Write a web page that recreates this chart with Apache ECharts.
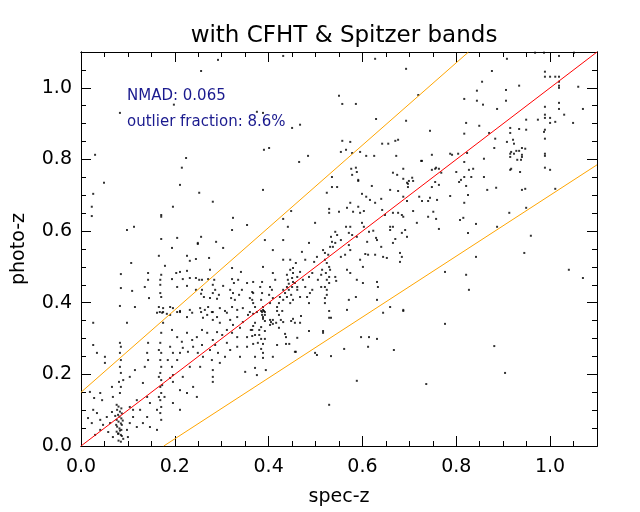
<!DOCTYPE html>
<html>
<head>
<meta charset="utf-8">
<script src="https://cdn.jsdelivr.net/npm/echarts@6/dist/echarts.min.js"></script>
<style>
  html, body { margin: 0; padding: 0; background: #fff; }
  #main { width: 640px; height: 512px; }
</style>
</head>
<body>
<div id="main"></div>
<script>
// spec-z / photo-z pairs, grouped by area of the plot
const topLeftPts = [
  [0.292,1.078],[0.256,1.047],[0.198,0.953],[0.083,0.930],[0.030,0.813],[0.224,0.804],[0.215,0.777],[0.049,0.735],
  [0.431,1.089],[0.627,1.081],[0.693,1.053],[0.550,0.978],[0.557,0.955],[0.586,0.955],[0.375,0.933],[0.388,0.930],
  [0.467,0.897],[0.450,0.888],[0.629,0.913],[0.693,0.908],[0.557,0.852],[0.574,0.849],[0.676,0.855],[0.670,0.852],
  [0.642,0.844],[0.655,0.844],[0.390,0.827],[0.401,0.832],[0.554,0.821],[0.565,0.827],[0.578,0.818],[0.595,0.821],
  [0.608,0.810],[0.625,0.810],[0.672,0.810],[0.484,0.810],[0.465,0.793],[0.727,0.796],[0.576,0.774],[0.586,0.777],
  [0.588,0.765],[0.578,0.757],[0.535,0.751],[0.591,0.743],[0.665,0.763],[0.687,0.774],[0.674,0.757],[0.687,0.746],
  [0.699,0.740],[0.697,0.732],[0.706,0.749],[0.708,0.740],[0.719,0.980]
];

const highZPts = [
  [1.019,1.089],[1.051,1.098],[0.987,1.098],[0.968,1.098],[0.908,1.081],[0.876,1.047],[0.855,1.017],[0.989,1.045],
  [0.989,1.031],[1.000,1.031],[1.011,1.031],[1.019,1.031],[1.019,1.017],[1.019,1.006],[1.019,1.000],[1.060,1.003],
  [0.934,1.006],[0.906,0.994],[0.844,0.992],[0.817,0.969],[0.844,0.964],[0.857,0.953],[0.906,0.964],[0.887,0.941],
  [0.989,0.947],[1.019,0.958],[1.019,0.941],[1.070,0.941],[1.030,0.925],[0.989,0.925],[0.989,0.916],[1.000,0.916],
  [0.974,0.911],[0.949,0.911],[1.011,0.905],[1.000,0.902],[1.049,0.902],[0.821,0.902],[0.744,0.880],[0.849,0.894],
  [0.915,0.888],[0.934,0.885],[0.949,0.883],[0.915,0.874],[0.989,0.883],[0.987,0.877],[0.870,0.874],[0.817,0.872],
  [0.989,0.858],[0.883,0.858],[0.921,0.855],[0.908,0.849],[0.881,0.832],[0.923,0.844],[0.928,0.824],[0.934,0.824],
  [0.947,0.830],[0.940,0.832],[0.917,0.821],[0.915,0.816],[0.915,0.807],[0.923,0.816],[0.940,0.813],[0.940,0.807],
  [0.930,0.799],[0.938,0.799],[0.989,0.816],[0.989,0.810],[0.989,0.777],[1.000,0.771],[0.917,0.774],[0.915,0.771],
  [0.859,0.802],[0.823,0.818],[0.804,0.816],[0.787,0.816],[0.791,0.813],[0.748,0.813],[0.725,0.796],[0.817,0.793],
  [0.757,0.777],[0.755,0.774],[0.763,0.774],[0.748,0.771],[0.768,0.763],[0.800,0.765],[0.827,0.771],[0.836,0.774],
  [0.832,0.751],[0.859,0.751],[0.817,0.751],[0.810,0.743],[0.806,0.737],[0.755,0.737],[0.936,0.765],
  [0.748,0.723],[0.763,0.729],[0.821,0.726],[0.866,0.715],[0.885,0.721],[0.940,0.715],[0.947,0.718],[1.011,0.718],
  [0.787,0.698],[0.825,0.701],[0.744,0.693],[0.740,0.684],[0.759,0.687],[0.817,0.679],[0.751,0.654],[0.913,0.651],
  [0.949,0.665],[0.740,0.640],[0.757,0.634],[0.808,0.631],[0.815,0.637],[0.842,0.620],[0.887,0.612],[0.763,0.606],
  [0.825,0.595],[0.959,0.587],[0.945,0.539],[0.842,0.528],[0.776,0.486],[0.821,0.478],[1.040,0.492],[1.070,0.469],
  [0.827,0.436],[0.776,0.341],[0.881,0.279],[0.904,0.204],[0.736,0.173]
];

const midPts = [
  [0.388,0.715],[0.535,0.723],[0.546,0.723],[0.591,0.740],[0.620,0.726],[0.695,0.735],[0.697,0.723],[0.659,0.715],
  [0.676,0.712],[0.524,0.707],[0.599,0.704],[0.608,0.696],[0.616,0.687],[0.627,0.679],[0.640,0.690],[0.687,0.696],
  [0.695,0.684],[0.721,0.696],[0.727,0.684],[0.574,0.679],[0.567,0.665],[0.550,0.654],[0.529,0.662],[0.529,0.651],
  [0.591,0.668],[0.603,0.656],[0.580,0.654],[0.595,0.651],[0.642,0.659],[0.648,0.645],[0.665,0.651],[0.676,0.651],
  [0.684,0.645],[0.687,0.640],[0.708,0.656],[0.716,0.623],[0.448,0.656],[0.431,0.634],[0.441,0.612],[0.499,0.623],
  [0.565,0.612],[0.574,0.612],[0.599,0.623],[0.603,0.612],[0.614,0.598],[0.623,0.601],[0.659,0.612],[0.659,0.603],
  [0.665,0.612],[0.684,0.595],[0.691,0.603],[0.695,0.584],[0.542,0.598],[0.533,0.584],[0.546,0.589],[0.571,0.595],
  [0.578,0.589],[0.588,0.584],[0.554,0.575],[0.535,0.570],[0.531,0.556],[0.537,0.556],[0.542,0.567],[0.571,0.561],
  [0.574,0.547],[0.610,0.570],[0.631,0.575],[0.629,0.581],[0.670,0.578],[0.665,0.567],[0.640,0.556],[0.612,0.534],
  [0.606,0.536],[0.680,0.539],[0.684,0.528],[0.680,0.514],[0.516,0.547],[0.520,0.539],[0.527,0.534],[0.520,0.520],
  [0.524,0.511],[0.529,0.500],[0.531,0.492],[0.522,0.483],[0.529,0.472],[0.524,0.464],[0.529,0.455],[0.520,0.444],
  [0.524,0.436],[0.524,0.422],[0.520,0.413],[0.520,0.399],[0.514,0.492],[0.512,0.478],[0.505,0.464],[0.512,0.444],
  [0.567,0.492],[0.574,0.483],[0.588,0.464],[0.601,0.455],[0.601,0.500],[0.595,0.520],[0.631,0.458],[0.633,0.444],
  [0.567,0.380],[0.687,0.380],[0.659,0.388],[0.467,0.416],[0.461,0.436],[0.486,0.472],[0.493,0.483],[0.493,0.436],
  [0.488,0.427],[0.482,0.416],[0.446,0.520],[0.458,0.511],[0.452,0.497],[0.467,0.486],[0.452,0.483],[0.446,0.492],
  [0.439,0.478],[0.461,0.472],[0.450,0.469],[0.441,0.464],[0.452,0.458],[0.456,0.455],[0.443,0.453],[0.439,0.444],
  [0.450,0.444],[0.461,0.444],[0.431,0.436],[0.443,0.436],[0.435,0.427],[0.448,0.422],[0.439,0.416],[0.452,0.408],
  [0.446,0.399],[0.431,0.408],[0.424,0.416],[0.422,0.399],[0.418,0.388],[0.388,0.380],[0.386,0.374],[0.392,0.374],
  [0.388,0.388],[0.384,0.408],[0.386,0.427],[0.382,0.444],[0.386,0.458],[0.388,0.500],[0.409,0.483],[0.414,0.464],
  [0.403,0.444],[0.407,0.436],[0.401,0.422],[0.409,0.413],[0.403,0.399],[0.367,0.427],[0.365,0.408],[0.371,0.388],
  [0.375,0.374],[0.367,0.458],[0.473,0.464],[0.478,0.444],[0.486,0.399],[0.542,0.472],[0.544,0.461],[0.571,0.408],
  [0.586,0.416],[0.631,0.408],[0.486,0.567],[0.471,0.542],[0.478,0.520],[0.497,0.514],[0.503,0.528],[0.554,0.528],
  [0.563,0.534],[0.627,0.534],[0.644,0.528],[0.652,0.525],[0.431,0.520],[0.392,0.575],[0.409,0.547],[0.431,0.575]
];

const lowerRightPts = [
  [0.644,0.372],[0.687,0.377],[0.597,0.304],[0.614,0.304],[0.631,0.299],[0.612,0.277],[0.667,0.268],[0.561,0.271],
  [0.533,0.251],[0.588,0.182],[0.529,0.115],[0.503,0.254],[0.499,0.260],[0.456,0.263],[0.458,0.263],[0.486,0.321],
  [0.516,0.321],[0.516,0.316],[0.461,0.302],[0.435,0.313],[0.437,0.304],[0.437,0.285],[0.444,0.285],[0.409,0.249],
  [0.394,0.212],[0.371,0.218],[0.375,0.198],[0.371,0.249],[0.529,0.377],[0.529,0.358],[0.533,0.358],[0.469,0.363],
  [0.452,0.355],[0.448,0.349],[0.456,0.344],[0.467,0.344],[0.426,0.352],[0.431,0.346],[0.416,0.344],[0.418,0.377],
  [0.422,0.366],[0.403,0.352],[0.409,0.352],[0.405,0.346],[0.409,0.341],[0.403,0.338],[0.422,0.330],[0.367,0.369],
  [0.371,0.344],[0.367,0.335],[0.362,0.324],[0.380,0.324],[0.392,0.321],[0.384,0.332],[0.365,0.307],[0.371,0.310],
  [0.380,0.310],[0.384,0.299],[0.377,0.288],[0.367,0.285],[0.388,0.285],[0.384,0.271],[0.388,0.260],[0.388,0.246],
  [0.418,0.282],[0.392,0.299],[0.388,0.360],[0.386,0.366],[0.392,0.366],[0.390,0.377],[0.384,0.377],[0.388,0.355],
  [0.392,0.349],[0.429,0.377]
];

const upperLeftPts = [
  [0.211,0.729],[0.026,0.704],[0.252,0.707],[0.023,0.668],[0.196,0.668],[0.281,0.682],[0.023,0.642],[0.171,0.645],
  [0.171,0.640],[0.324,0.637],[0.354,0.617],[0.113,0.612],[0.098,0.603],[0.322,0.603],[0.171,0.578],[0.205,0.581],
  [0.249,0.567],[0.249,0.564],[0.256,0.584],[0.288,0.570],[0.194,0.553],[0.303,0.553],[0.166,0.531],[0.226,0.531],
  [0.245,0.522],[0.273,0.525],[0.232,0.517],[0.107,0.511],[0.179,0.503],[0.211,0.486],[0.203,0.483],[0.226,0.489],
  [0.275,0.492],[0.322,0.497],[0.341,0.486],[0.085,0.480],[0.143,0.483],[0.171,0.478],[0.194,0.466],[0.217,0.466],
  [0.232,0.469],[0.245,0.469],[0.252,0.464],[0.258,0.464],[0.271,0.466],[0.284,0.464],[0.322,0.466],[0.326,0.455],
  [0.335,0.464],[0.143,0.464],[0.169,0.464],[0.085,0.441],[0.109,0.433],[0.136,0.444],[0.169,0.450],[0.169,0.427],
  [0.171,0.416],[0.205,0.444],[0.226,0.447],[0.245,0.436],[0.258,0.436],[0.256,0.425],[0.262,0.416],[0.281,0.450],
  [0.286,0.436],[0.281,0.427],[0.294,0.422],[0.275,0.413],[0.290,0.411],[0.303,0.447],[0.318,0.436],[0.324,0.427],
  [0.320,0.413],[0.328,0.408],[0.337,0.422],[0.343,0.436],[0.354,0.455],[0.365,0.430],[0.360,0.413],[0.367,0.399],
  [0.145,0.413],[0.083,0.391],[0.115,0.388],[0.166,0.388],[0.175,0.385],[0.190,0.388],[0.196,0.385],[0.205,0.374],
  [0.211,0.377],[0.232,0.380],[0.254,0.385],[0.264,0.380],[0.271,0.388],[0.281,0.374],[0.296,0.385],[0.307,0.377],
  [0.322,0.388],[0.333,0.380],[0.345,0.385],[0.360,0.374],[0.162,0.372],[0.175,0.374],[0.183,0.369]
];

const lowPts = [
  [0.168,0.374],[0.173,0.372],[0.190,0.366],[0.211,0.374],[0.226,0.360],[0.237,0.372],[0.256,0.374],[0.260,0.358],
  [0.269,0.366],[0.279,0.374],[0.281,0.352],[0.290,0.360],[0.296,0.344],[0.311,0.372],[0.318,0.352],[0.324,0.338],
  [0.333,0.360],[0.339,0.330],[0.345,0.346],[0.356,0.366],[0.365,0.324],[0.354,0.304],[0.333,0.304],[0.322,0.316],
  [0.311,0.324],[0.301,0.310],[0.290,0.318],[0.281,0.296],[0.269,0.316],[0.258,0.324],[0.247,0.304],[0.237,0.296],
  [0.226,0.316],[0.215,0.291],[0.205,0.304],[0.194,0.324],[0.175,0.344],[0.171,0.316],[0.169,0.288],[0.171,0.260],
  [0.169,0.240],[0.171,0.221],[0.169,0.204],[0.171,0.184],[0.169,0.165],[0.171,0.148],[0.169,0.128],[0.171,0.109],
  [0.169,0.092],[0.171,0.073],[0.166,0.268],[0.166,0.193],[0.173,0.170],[0.166,0.137],[0.190,0.277],[0.196,0.260],
  [0.185,0.240],[0.194,0.221],[0.196,0.198],[0.190,0.190],[0.196,0.179],[0.205,0.240],[0.211,0.260],[0.217,0.274],
  [0.228,0.263],[0.239,0.277],[0.249,0.260],[0.258,0.282],[0.260,0.249],[0.275,0.268],[0.279,0.240],[0.286,0.282],
  [0.292,0.260],[0.296,0.232],[0.281,0.212],[0.281,0.193],[0.281,0.179],[0.311,0.288],[0.318,0.268],[0.307,0.249],
  [0.333,0.277],[0.339,0.249],[0.350,0.207],[0.354,0.277],[0.254,0.221],[0.232,0.221],[0.217,0.193],[0.211,0.156],
  [0.226,0.148],[0.239,0.165],[0.247,0.137],[0.178,0.137],[0.196,0.120],[0.211,0.101],[0.162,0.101],[0.147,0.120],
  [0.141,0.137],[0.132,0.176],[0.126,0.101],[0.111,0.081],[0.119,0.053],[0.132,0.064],[0.104,0.109],[0.143,0.240],
  [0.141,0.260],[0.143,0.288],[0.136,0.221],[0.098,0.344],[0.083,0.288],[0.085,0.277],[0.083,0.260],[0.085,0.240],
  [0.083,0.221],[0.085,0.204],[0.081,0.179],[0.085,0.165],[0.083,0.148],
  [0.026,0.344],[0.026,0.282],[0.034,0.260],[0.051,0.249],[0.051,0.232],[0.019,0.151],[0.028,0.134],[0.041,0.148],
  [0.045,0.128],[0.026,0.101],[0.015,0.078],[0.023,0.064],[0.034,0.092],[0.041,0.073],[0.047,0.059],[0.055,0.081],
  [0.062,0.064],[0.066,0.095],[0.058,0.039],[0.041,0.045],[0.030,0.031],[0.068,0.025],[0.098,0.045],[0.100,0.025],
  [0.104,0.064],[0.111,0.101],[0.119,0.128],[0.068,0.137],[0.066,0.165],[0.090,0.184],[0.104,0.193],[0.115,0.212],
  [0.141,0.081],[0.147,0.053],[0.162,0.045]
];

const lowStripPts = [
  [0.076,0.115],[0.080,0.110],[0.086,0.105],[0.077,0.101],[0.083,0.096],[0.087,0.091],[0.079,0.087],[0.082,0.082],
  [0.086,0.077],[0.076,0.073],[0.080,0.068],[0.085,0.063],[0.087,0.059],[0.077,0.054],[0.082,0.049],[0.086,0.045],
  [0.076,0.040],[0.080,0.035],[0.085,0.031],[0.087,0.028],[0.079,0.034],[0.083,0.043],[0.075,0.059],[0.089,0.071],
  [0.073,0.084],[0.080,0.015],[0.085,0.012],[0.090,0.020]
];

// catastrophic-outlier bounds |dz| = 0.15 (1 + z)
const outlierCut = 0.15;
const axisMax = 1.1;
const majorTicks = 0.2;
const minorTicks = 0.05;

const allPts = [].concat(topLeftPts, highZPts, midPts, lowerRightPts, upperLeftPts, lowPts, lowStripPts);

const oneToOne = [[0, 0], [axisMax, axisMax]];
const upperBound = [[0, outlierCut], [(axisMax - outlierCut) / (1 + outlierCut), axisMax]];
const lowerBound = [[outlierCut / (1 - outlierCut), 0], [axisMax, axisMax * (1 - outlierCut) - outlierCut]];

const font = 'DejaVu Sans';

function makeAxis(pos, interval, tickLen, withLabels, extra) {
  return Object.assign({
    type: 'value',
    position: pos,
    min: 0,
    max: axisMax,
    interval: interval,
    splitLine: { show: false },
    axisLine: { show: true, onZero: false, lineStyle: { color: '#000', width: 1 } },
    axisTick: { show: true, inside: true, length: tickLen, lineStyle: { color: '#000', width: 1 } },
    axisLabel: { show: false }
  }, extra || {});
}

const labelStyle = (margin) => ({
  show: true, color: '#000', fontFamily: font, fontSize: 19, margin: margin,
  showMaxLabel: false, formatter: v => v.toFixed(1)
});

const chart = echarts.init(document.getElementById('main'), null, { renderer: 'canvas' });

chart.setOption({
  backgroundColor: '#fff',
  animation: false,
  title: {
    text: 'with CFHT & Spitzer bands',
    left: 339,
    textAlign: 'center',
    top: 20,
    textStyle: { fontFamily: font, fontSize: 23, fontWeight: 'normal', color: '#000' }
  },
  grid: { left: 81, right: 43, top: 52, bottom: 66 },
  xAxis: [
    makeAxis('bottom', majorTicks, 10, true, {
      name: 'spec-z', nameLocation: 'middle', nameGap: 42,
      nameTextStyle: { fontFamily: font, fontSize: 19, color: '#000' },
      axisLabel: labelStyle(12)
    }),
    makeAxis('bottom', minorTicks, 5, false),
    makeAxis('top', majorTicks, 10, false),
    makeAxis('top', minorTicks, 5, false)
  ],
  yAxis: [
    makeAxis('left', majorTicks, 10, true, {
      name: 'photo-z', nameLocation: 'middle', nameGap: 52,
      nameTextStyle: { fontFamily: font, fontSize: 19, color: '#000' },
      axisLabel: labelStyle(9)
    }),
    makeAxis('left', minorTicks, 5, false),
    makeAxis('right', majorTicks, 10, false),
    makeAxis('right', minorTicks, 5, false)
  ],
  graphic: [
    { type: 'text', left: 127, top: 89, style: { text: 'NMAD: 0.065', fill: '#1a1a8e', font: '15px "DejaVu Sans"' } },
    { type: 'text', left: 127, top: 115, style: { text: 'outlier fraction: 8.6%', fill: '#1a1a8e', font: '15px "DejaVu Sans"' } }
  ],
  series: [
    {
      type: 'scatter',
      data: allPts,
      symbol: 'rect',
      symbolSize: 2,
      itemStyle: { color: '#000' },
      silent: true,
      z: 2
    },
    {
      type: 'line',
      data: oneToOne,
      showSymbol: false,
      lineStyle: { color: '#ff0000', width: 1 },
      z: 3
    },
    {
      type: 'line',
      data: upperBound,
      showSymbol: false,
      lineStyle: { color: '#ffa500', width: 1 },
      z: 3
    },
    {
      type: 'line',
      data: lowerBound,
      showSymbol: false,
      lineStyle: { color: '#ffa500', width: 1 },
      z: 3
    }
  ]
});

window.addEventListener('resize', () => chart.resize());
</script>
</body>
</html>
